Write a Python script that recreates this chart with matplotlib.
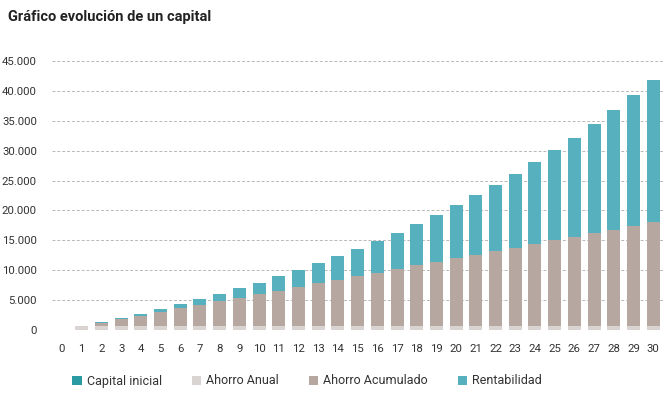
import matplotlib.pyplot as plt
import numpy as np
from matplotlib.ticker import FuncFormatter

# años 0..30
years = list(range(0, 31))
capital_inicial = [0] * 31
ahorro_anual = [0] + [600] * 30
ahorro_acumulado = [0, 0, 600, 1200, 1800, 2400, 3000, 3600, 4200, 4800, 5400,
                    6000, 6600, 7200, 7800, 8400, 9000, 9600, 10200, 10800, 11400,
                    12000, 12600, 13200, 13800, 14400, 15000, 15600, 16200, 16800, 17400]
rentabilidad = [0, 30, 90, 190, 320, 480, 690, 930, 1220, 1550, 1920,
                2350, 2830, 3360, 3950, 4600, 5300, 6080, 6920, 7840, 8830,
                9900, 11060, 12300, 13640, 15070, 16600, 18240, 20000, 21860, 23860]

colors = {
    'Capital inicial': '#2a9aa3',
    'Ahorro Anual': '#d9d3d1',
    'Ahorro Acumulado': '#b6a7a1',
    'Rentabilidad': '#56b0bd',
}

plt.rcParams['font.family'] = ['Roboto', 'DejaVu Sans']

fig = plt.figure(figsize=(6.69, 3.93), dpi=100)
ax = fig.add_axes([52.2 / 669, 1 - 330 / 393, (663 - 52.2) / 669, (330 - 61) / 393])

x = np.array(years)
w = 0.66
bottom = np.zeros(len(years))
series = [('Capital inicial', capital_inicial), ('Ahorro Anual', ahorro_anual),
          ('Ahorro Acumulado', ahorro_acumulado), ('Rentabilidad', rentabilidad)]
for name, vals in series:
    ax.bar(x, vals, w, bottom=bottom, color=colors[name], label=name, zorder=3)
    bottom += np.array(vals)

ax.set_xlim(-0.5, 30.5)
ax.set_ylim(0, 45000)
ax.set_yticks(range(0, 45001, 5000))
ax.set_xticks(years)
ax.yaxis.set_major_formatter(FuncFormatter(lambda v, p: f'{int(v):,}'.replace(',', '.')))
ax.grid(axis='y', color='#b8b8b8', linestyle=(0, (3, 2)), linewidth=0.7, zorder=0)
for s in ax.spines.values():
    s.set_visible(False)
ax.tick_params(length=0, labelsize=8.2, colors='#333333')
ax.tick_params(axis='y', pad=11)
ax.tick_params(axis='x', pad=10)

fig.text(8 / 669, 1 - 17 / 393, 'Gráfico evolución de un capital', fontsize=10.5,
         fontweight='bold', va='center', ha='left', color='#222222')

fig.legend(loc='center left', bbox_to_anchor=(61 / 669, 1 - 381 / 393), ncol=4,
           frameon=False, fontsize=9, handlelength=0.75, handleheight=0.75,
           handletextpad=0.4, columnspacing=2.4, labelcolor='#333333')

fig.savefig('out.png', dpi=100)
